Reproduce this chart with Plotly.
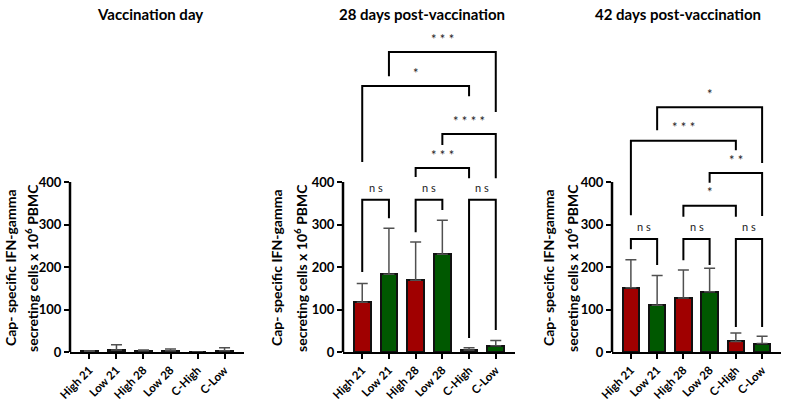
import plotly.graph_objects as go

categories = ["High 21", "Low 21", "High 28", "Low 28", "C-High", "C-Low"]
bar_colors = ["#A00000", "#005800", "#A00000", "#005800", "#A00000", "#005800"]

titles = ["Vaccination day", "28 days post-vaccination", "42 days post-vaccination"]

day0_mean = [2, 5, 3, 3, 0, 3]
day0_sd = [1, 12, 2, 4, 0, 7]

day28_mean = [117, 183, 169, 230, 5, 15]
day28_sd = [44, 108, 90, 80, 5, 12]

day42_mean = [151, 110, 127, 142, 25, 20]
day42_sd = [66, 70, 66, 55, 20, 17]

# brackets: (left index, right index, top, left leg end, right leg end, label)
brackets28 = [
    (0, 1, 358, 188, 315, "n s"),
    (2, 3, 358, 282, 334, "n s"),
    (4, 5, 358, 33, 52, "n s"),
    (2, 4, 433, 412, 409, "* * *"),
    (3, 5, 513, 487, 409, "* * * *"),
    (0, 4, 626, 447, 602, "*"),
    (1, 5, 706, 649, 565, "* * *"),
]
brackets42 = [
    (0, 1, 266, 242, 205, "n s"),
    (2, 3, 266, 216, 205, "n s"),
    (4, 5, 266, 59, 59, "n s"),
    (2, 4, 344, 318, 318, "*"),
    (3, 5, 421, 398, 320, "* *"),
    (0, 4, 497, 322, 475, "* * *"),
    (1, 5, 576, 522, 445, "*"),
]

means = [day0_mean, day28_mean, day42_mean]
sds = [day0_sd, day28_sd, day42_sd]
bracket_sets = [[], brackets28, brackets42]

W, H = 785, 402
domains = [(70, 244), (343, 515), (612, 781)]
title_x = [150, 422, 678]
ytitle_x = [(10, 31), (276, 300), (548, 571)]
plot_top, plot_bottom = 35, 352
yscale = 0.425  # px per unit
ymax = (plot_bottom - plot_top) / yscale


def py(p):
    return (plot_bottom - p) / (plot_bottom - plot_top)


font = "Lato"
fig = go.Figure()
shapes = []
annotations = []

for i in range(3):
    xa = "x" if i == 0 else f"x{i+1}"
    ya = "y" if i == 0 else f"y{i+1}"
    idx = list(range(len(categories)))
    fig.add_trace(go.Bar(
        x=idx, y=means[i], xaxis=xa, yaxis=ya,
        marker=dict(color=bar_colors, line=dict(color="#111111", width=2)),
        width=0.63,
        error_y=dict(type="data", array=sds[i], arrayminus=[0]*6, symmetric=False,
                     color="#505050", thickness=1.5, width=5.5),
        showlegend=False, hoverinfo="skip",
    ))
    d0, d1 = domains[i]
    axn = "" if i == 0 else str(i + 1)
    fig.layout["xaxis" + axn] = dict(
        domain=[d0 / W, d1 / W], anchor=ya, range=[-0.72, 5.72],
        tickvals=idx, ticktext=categories, tickangle=-45,
        ticks="outside", ticklen=5, tickwidth=2, tickcolor="black",
        showline=True, linewidth=2, linecolor="black",
        showgrid=False, zeroline=False, automargin=False,
        tickfont=dict(family=font, size=11.5, color="black", weight="bold"),
    )
    fig.layout["yaxis" + axn] = dict(
        domain=[0, 1], anchor=xa, range=[0, ymax],
        tickvals=[0, 100, 200, 300, 400],
        ticks="outside", ticklen=5, tickwidth=2, tickcolor="black",
        showline=False, showgrid=False, zeroline=False, automargin=False,
        tickfont=dict(family=font, size=13, color="black", weight="bold"),
    )
    # y axis line only up to 400
    shapes.append(dict(type="line", xref=xa + " domain", yref=ya, x0=0, x1=0, y0=0, y1=400,
                       line=dict(color="black", width=2.5)))
    # titles
    annotations.append(dict(text=f"<b>{titles[i]}</b>", xref="paper", yref="paper",
                            x=title_x[i] / W, y=py(14), xanchor="center", yanchor="middle",
                            showarrow=False, font=dict(family=font, size=15, color="black")))
    ymid = py(268)
    annotations.append(dict(text="<b>Cap- specific IFN-gamma</b>", xref="paper", yref="paper",
                            x=ytitle_x[i][0] / W, y=ymid, textangle=-90, xanchor="center", yanchor="middle",
                            showarrow=False, font=dict(family=font, size=14, color="black")))
    annotations.append(dict(text="<b>secreting cells x 10<sup>6</sup> PBMC</b>", xref="paper", yref="paper",
                            x=ytitle_x[i][1] / W, y=ymid, textangle=-90, xanchor="center", yanchor="middle",
                            showarrow=False, font=dict(family=font, size=14, color="black")))
    for (a, b, top, la, rb, lab) in bracket_sets[i]:
        shapes.append(dict(type="path", xref=xa, yref=ya,
                           path=f"M {a} {la} L {a} {top} L {b} {top} L {b} {rb}",
                           line=dict(color="black", width=2)))
        is_ns = lab.startswith("n")
        annotations.append(dict(text=lab, xref=xa, yref=ya, x=(a + b) / 2,
                                y=top + (10 if is_ns else 8),
                                xanchor="center", yanchor="bottom", showarrow=False,
                                font=dict(family=font, size=11 if is_ns else 13, color="#222222")))

fig.update_layout(
    width=W, height=H, template=None,
    margin=dict(l=0, r=0, t=plot_top, b=H - plot_bottom),
    paper_bgcolor="white", plot_bgcolor="white",
    shapes=shapes, annotations=annotations, bargap=0,
)
fig.write_html("out.html", config={"displayModeBar": False},
               post_script="document.body.style.margin='0px';")
